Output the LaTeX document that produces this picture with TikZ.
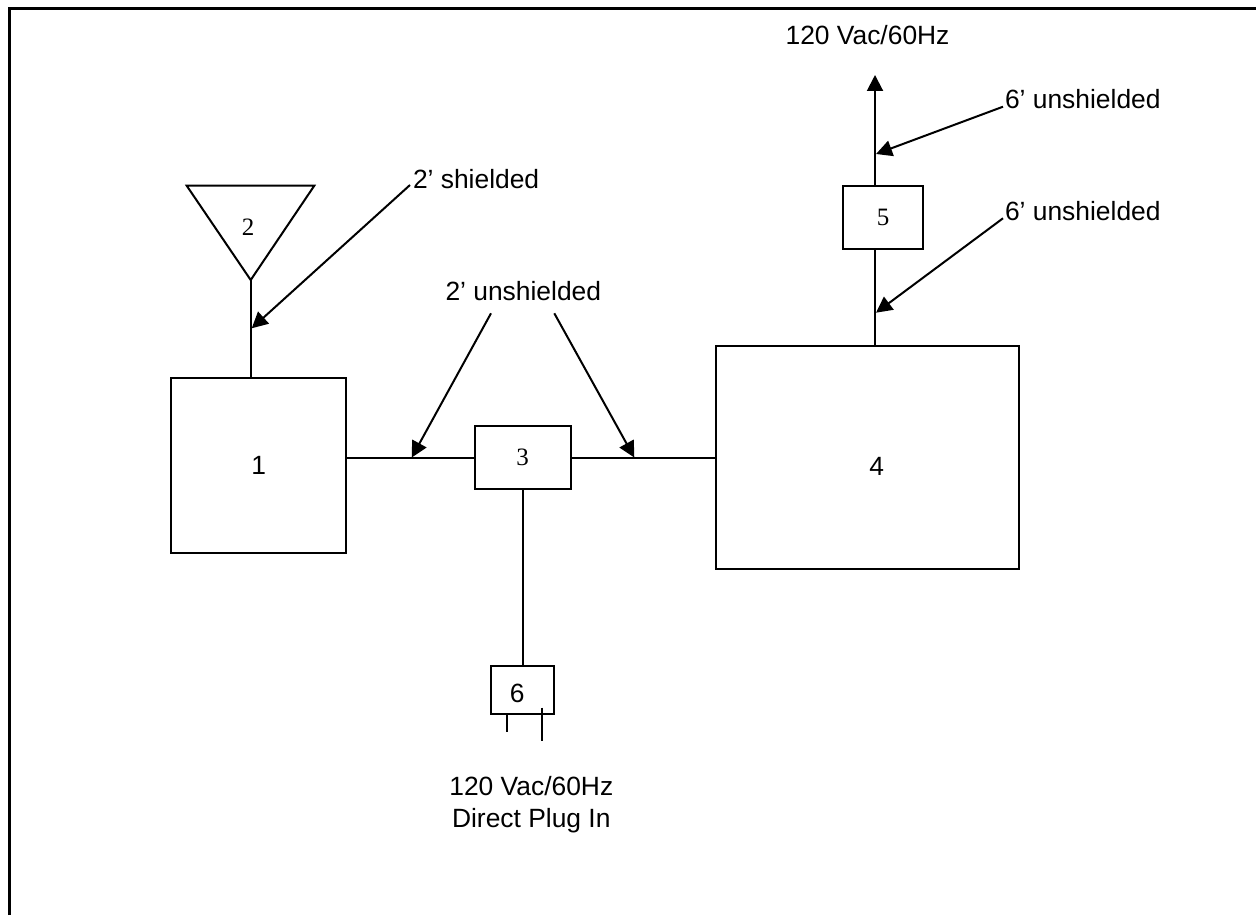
\documentclass[tikz,border=0pt]{standalone}
\usepackage{fontspec}
\setmainfont{Liberation Sans}
\newfontfamily\serifnum{Liberation Serif}
\usetikzlibrary{arrows.meta, calc}

\begin{document}
\begin{tikzpicture}[x=0.5pt, y=-0.5pt, line width=1pt,
    box/.style={draw, inner sep=0pt},
    txt/.style={inner sep=0pt, font=\fontsize{13.2}{15.8}\selectfont},
    num/.style={inner sep=0pt, font=\serifnum\fontsize{12.5}{14}\selectfont},
    tip/.style={-{Triangle[length=8pt,width=8pt]}}]
    \useasboundingbox (0,0) rectangle (1256,915);
    \draw[line width=1.2pt] (9.5,915) -- (9.5,8.5) -- (1256,8.5);
    % units
    \node[box, txt, minimum width=87.5pt, minimum height=87.5pt] (b1) at (258.7,465.3) {1};
    \node[box, num, minimum width=47.8pt, minimum height=31.7pt] (b3) at (522.7,457.5) {3};
    \node[box, minimum width=151.5pt, minimum height=111.3pt] (b4) at (867,457.5) {};
    \node[txt] (n4) at (876.7,466.7) {4};
    \node[box, num, minimum width=39.8pt, minimum height=31.3pt] (b5) at (883,217.5) {5};
    \node[box, minimum width=31.7pt, minimum height=23.7pt] (b6) at (522.7,689.9) {};
    \node[txt] (n6) at (517.3,693.3) {6};
    % antenna
    \coordinate (t2) at (250.7,280);
    \coordinate (t2l) at (186.7,185.7);
    \coordinate (t2r) at (314.3,185.7);
    \draw (t2l) -- (t2r) -- (t2) -- cycle;
    \node[num] (n2) at (248,227) {2};
    % cables
    \coordinate (pw) at (875,75);
    \draw (t2) -- (t2 |- b1.north);
    \draw (b1.east |- b3.west) -- (b3.west);
    \draw (b3.east) -- (b4.west);
    \draw (b3.south) -- (b6.north);
    \draw (b4.north -| pw) -- (b5.south -| pw);
    \draw[tip] (b5.north -| pw) -- (pw);
    \draw ($(b6.south)+(-16,0)$) -- ++(0,17);
    \draw ($(b6.south)+(19,-7)$) -- ++(0,33);
    % cable notes
    \node[txt, anchor=base west] (l1) at (412,188) {2’ shielded};
    \node[txt, anchor=base] (l2) at (523.3,300.7) {2’ unshielded};
    \node[txt, anchor=base west] (l3) at (1004,108.3) {6’ unshielded};
    \node[txt, anchor=base west] (l4) at (1004,220) {6’ unshielded};
    \node[txt, anchor=base] (l5) at (867.5,44.3) {120 Vac/60Hz};
    \node[txt, align=center, anchor=north] (l6) at (531.3,775.7) {120 Vac/60Hz\\Direct Plug In};
    \coordinate (a1) at (251.7,328.3);
    \coordinate (a2) at (411.7,457.5);
    \coordinate (a3) at (634.3,457.5);
    \coordinate (a4) at (876,154);
    \coordinate (a5) at (876,312.7);
    \draw[tip] ($(l1.base west)+(-2,-3)$) -- (a1);
    \draw[tip] ($(l2.base)+(-32.3,12.6)$) -- (a2);
    \draw[tip] ($(l2.base)+(31,12.6)$) -- (a3);
    \draw[tip] ($(l3.base west)+(-1,-1.6)$) -- (a4);
    \draw[tip] ($(l4.base west)+(-1,-1.7)$) -- (a5);
\end{tikzpicture}
\end{document}
